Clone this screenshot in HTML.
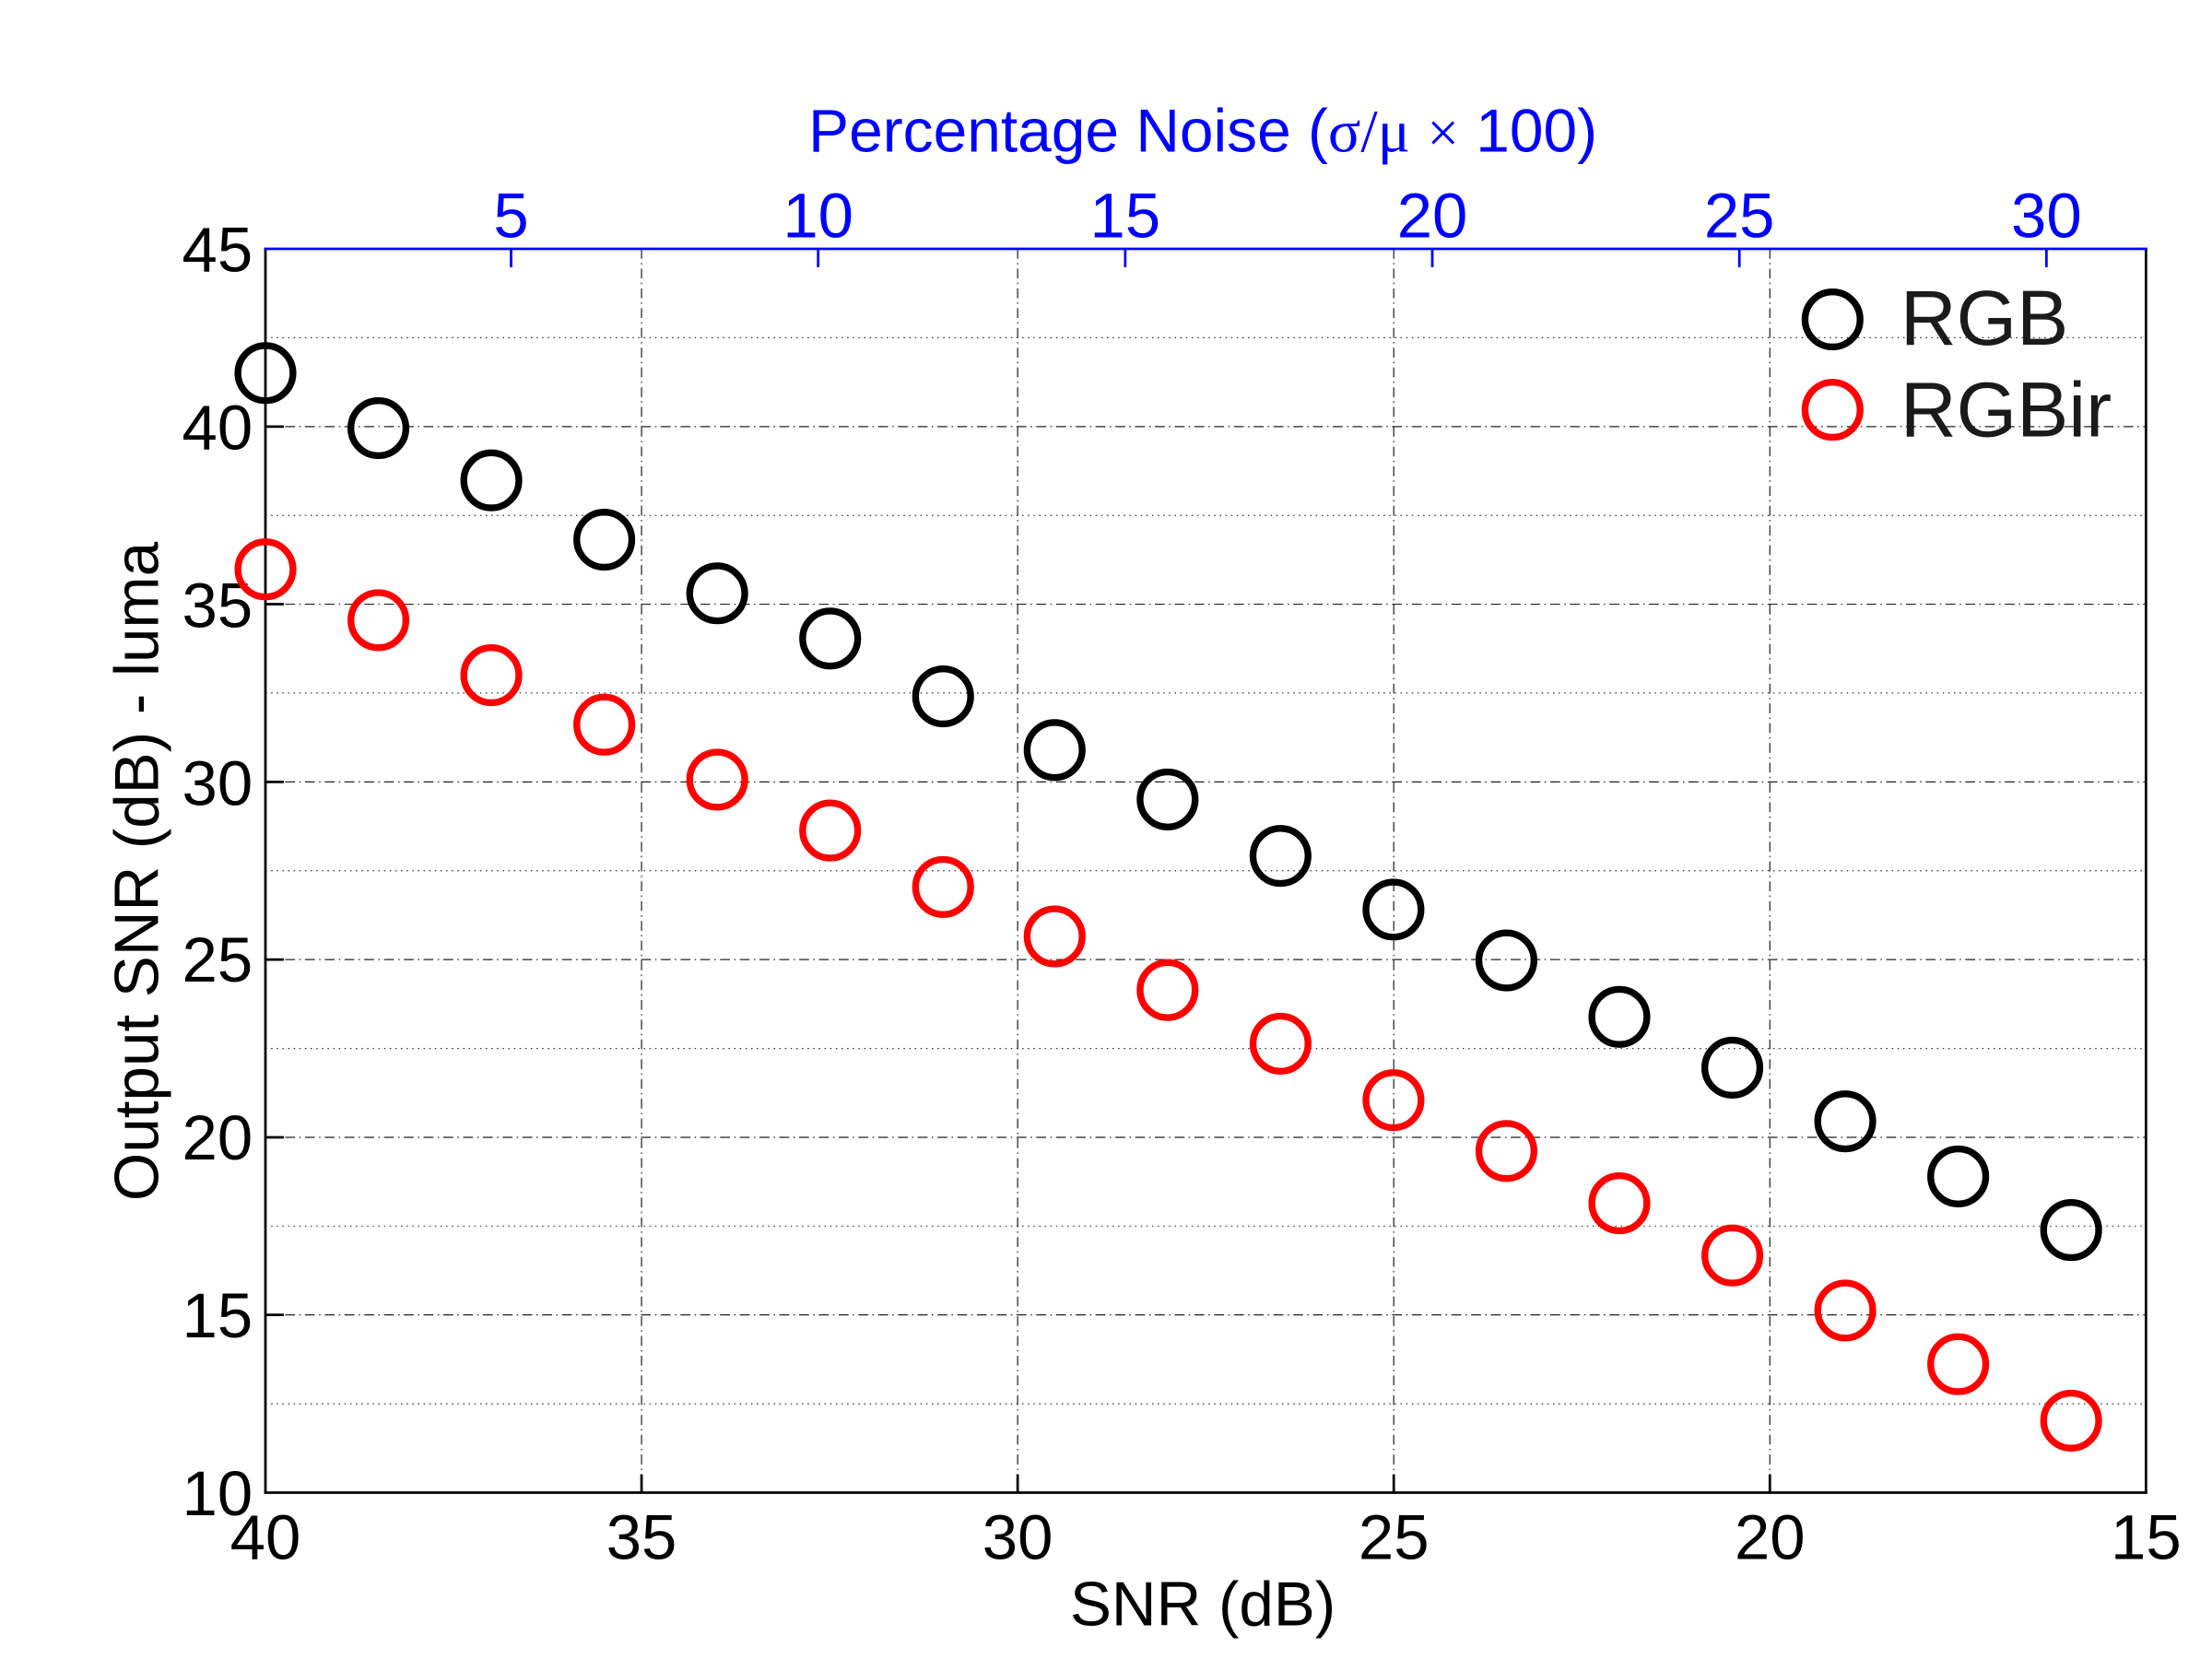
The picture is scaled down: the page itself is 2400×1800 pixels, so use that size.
<!DOCTYPE html>
<html><head><meta charset="utf-8"><style>html,body{margin:0;padding:0;background:#fff}svg{display:block}</style></head>
<body>
<svg width="2400" height="1800" viewBox="0 0 2400 1800" xmlns="http://www.w3.org/2000/svg" font-family="Liberation Sans, sans-serif">
<rect width="2400" height="1800" fill="#fff"/>
<g transform="translate(288,270) scale(1.5318) translate(-188,-177)">
<g stroke="#333" stroke-width="0.8" stroke-dasharray="1,3" fill="none">
<line x1="188" y1="239.9" x2="1520" y2="239.9"/>
<line x1="188" y1="365.8" x2="1520" y2="365.8"/>
<line x1="188" y1="491.6" x2="1520" y2="491.6"/>
<line x1="188" y1="617.5" x2="1520" y2="617.5"/>
<line x1="188" y1="743.4" x2="1520" y2="743.4"/>
<line x1="188" y1="869.2" x2="1520" y2="869.2"/>
<line x1="188" y1="995.1" x2="1520" y2="995.1"/>
</g>
<g stroke="#222" stroke-width="0.8" stroke-dasharray="7,3,1,3" fill="none">
<line x1="188" y1="302.9" x2="1520" y2="302.9"/>
<line x1="188" y1="428.7" x2="1520" y2="428.7"/>
<line x1="188" y1="554.6" x2="1520" y2="554.6"/>
<line x1="188" y1="680.4" x2="1520" y2="680.4"/>
<line x1="188" y1="806.3" x2="1520" y2="806.3"/>
<line x1="188" y1="932.1" x2="1520" y2="932.1"/>
<line x1="454.4" y1="177" x2="454.4" y2="1058"/>
<line x1="720.8" y1="177" x2="720.8" y2="1058"/>
<line x1="987.2" y1="177" x2="987.2" y2="1058"/>
<line x1="1253.6" y1="177" x2="1253.6" y2="1058"/>
</g>
<g stroke="#000" stroke-width="1.8" fill="none">
<line x1="188" y1="177" x2="188" y2="1058"/>
<line x1="187" y1="1058" x2="1521" y2="1058"/>
<line x1="1520" y1="177" x2="1520" y2="1058"/>
<line x1="188" y1="302.9" x2="201" y2="302.9"/>
<line x1="188" y1="428.7" x2="201" y2="428.7"/>
<line x1="188" y1="554.6" x2="201" y2="554.6"/>
<line x1="188" y1="680.4" x2="201" y2="680.4"/>
<line x1="188" y1="806.3" x2="201" y2="806.3"/>
<line x1="188" y1="932.1" x2="201" y2="932.1"/>
<line x1="454.4" y1="1058" x2="454.4" y2="1045"/>
<line x1="720.8" y1="1058" x2="720.8" y2="1045"/>
<line x1="987.2" y1="1058" x2="987.2" y2="1045"/>
<line x1="1253.6" y1="1058" x2="1253.6" y2="1045"/>
</g>
<g stroke="#0000ff" stroke-width="1.8" fill="none">
<line x1="187" y1="177" x2="1521" y2="177"/>
<line x1="362" y1="177" x2="362" y2="190"/>
<line x1="579.5" y1="177" x2="579.5" y2="190"/>
<line x1="797" y1="177" x2="797" y2="190"/>
<line x1="1014.5" y1="177" x2="1014.5" y2="190"/>
<line x1="1232" y1="177" x2="1232" y2="190"/>
<line x1="1449.5" y1="177" x2="1449.5" y2="190"/>
</g>
<g font-size="45" text-anchor="end" fill="#000">
<text x="179" y="193">45</text>
<text x="179" y="319">40</text>
<text x="179" y="445">35</text>
<text x="179" y="571">30</text>
<text x="179" y="696">25</text>
<text x="179" y="822">20</text>
<text x="179" y="948">15</text>
<text x="179" y="1074">10</text>
</g>
<g font-size="45" text-anchor="middle" fill="#000">
<text x="188" y="1105">40</text>
<text x="454.4" y="1105">35</text>
<text x="720.8" y="1105">30</text>
<text x="987.2" y="1105">25</text>
<text x="1253.6" y="1105">20</text>
<text x="1520" y="1105">15</text>
<text x="852" y="1152" font-size="44">SNR (dB)</text>
<text transform="translate(112,618) rotate(-90)" font-size="44">Output SNR (dB) - luma</text>
</g>
<g font-size="45" text-anchor="middle" fill="#0000ff">
<text x="362" y="169">5</text>
<text x="579.5" y="169">10</text>
<text x="797" y="169">15</text>
<text x="1014.5" y="169">20</text>
<text x="1232" y="169">25</text>
<text x="1449.5" y="169">30</text>
<text x="852" y="108" font-size="43">Percentage Noise (<tspan font-family="Liberation Serif, serif">σ/μ</tspan> <tspan font-family="Liberation Serif, serif" font-size="40">×</tspan> 100)</text>
</g>
<g fill="none" stroke="#000" stroke-width="4.8">
<circle cx="188" cy="265" r="19.5"/><circle cx="268" cy="304" r="19.5"/><circle cx="348" cy="341" r="19.5"/><circle cx="428" cy="383" r="19.5"/><circle cx="508" cy="421" r="19.5"/><circle cx="588" cy="453" r="19.5"/><circle cx="668" cy="494" r="19.5"/><circle cx="747" cy="532" r="19.5"/><circle cx="827" cy="567" r="19.5"/><circle cx="907" cy="607" r="19.5"/><circle cx="987" cy="645" r="19.5"/><circle cx="1067" cy="681" r="19.5"/><circle cx="1147" cy="721" r="19.5"/><circle cx="1227" cy="757" r="19.5"/><circle cx="1307" cy="795" r="19.5"/><circle cx="1387" cy="834" r="19.5"/><circle cx="1467" cy="872" r="19.5"/>
<circle cx="1298" cy="227" r="19.5"/>
</g>
<g fill="none" stroke="#ff0000" stroke-width="4.8">
<circle cx="188" cy="404" r="19.5"/><circle cx="268" cy="440" r="19.5"/><circle cx="348" cy="479" r="19.5"/><circle cx="428" cy="514" r="19.5"/><circle cx="508" cy="553" r="19.5"/><circle cx="588" cy="589" r="19.5"/><circle cx="668" cy="629" r="19.5"/><circle cx="747" cy="664" r="19.5"/><circle cx="827" cy="702" r="19.5"/><circle cx="907" cy="740" r="19.5"/><circle cx="987" cy="780" r="19.5"/><circle cx="1067" cy="816" r="19.5"/><circle cx="1147" cy="853" r="19.5"/><circle cx="1227" cy="890" r="19.5"/><circle cx="1307" cy="929" r="19.5"/><circle cx="1387" cy="967" r="19.5"/><circle cx="1467" cy="1007" r="19.5"/>
<circle cx="1298" cy="291" r="19.5"/>
</g>
<g font-size="55" fill="#1a1a1a">
<text x="1346" y="245">RGB</text>
<text x="1346" y="310">RGBir</text>
</g>
</g>
</svg>
</body></html>
